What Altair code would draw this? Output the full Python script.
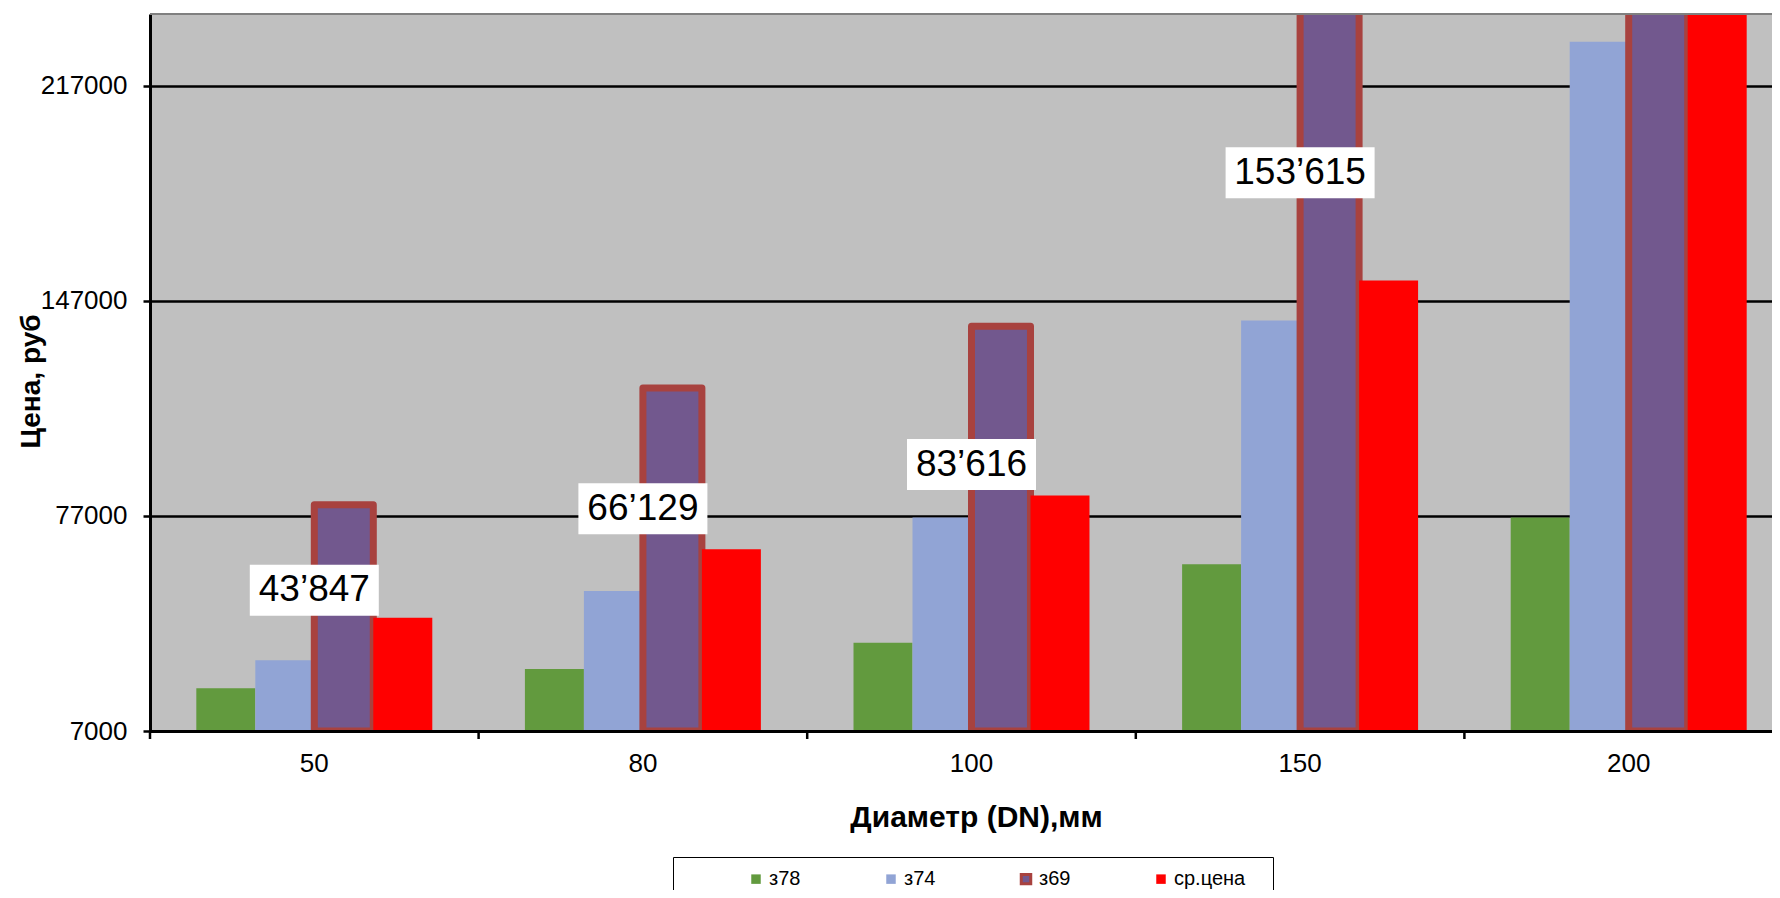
import altair as alt
import pandas as pd

# ---------------- data ----------------
dn = ["50", "80", "100", "150", "200"]
series = ["з78", "з74", "з69", "ср.цена"]
z78 = [20900, 27200, 35700, 61300, 76500]
z74 = [30000, 52600, 76500, 140600, 231300]
z69 = [80600, 118600, 138700, 259000, 478200]
avg_price = [43847, 66129, 83616, 153615, 262000]

label_dn = ["50", "80", "100", "150"]
label_value = [43847, 66129, 83616, 153615]
label_anchor = [52800, 79300, 93700, 188700]

y_ticks = [7000, 77000, 147000, 217000]
y_min, y_max = 7000, 240333

colors = ["#629A3E", "#91A4D5", "#72588E", "#FF0000"]
borders = ["rgba(0,0,0,0)", "rgba(0,0,0,0)", "#A8423F", "rgba(0,0,0,0)"]

# ---------------- tables ----------------
rows = []
for s, vals in zip(series, [z78, z74, z69, avg_price]):
    for d, v in zip(dn, vals):
        rows.append({"dn": d, "series": s, "value": v})
df = pd.DataFrame(rows)


def fmt(v):
    return f"{v // 1000}\u2019{v % 1000:03d}"


lab = pd.DataFrame({"dn": label_dn, "anchor": label_anchor,
                    "text": [fmt(v) for v in label_value]})
ticks_df = pd.DataFrame({"dn": dn})

W, H = 1622, 717
FONT = "Liberation Sans"
XT = "Диаметр (DN),мм"
YT = "Цена, руб"

xscale = alt.Scale(domain=dn, range=[0, 1643], paddingInner=0, paddingOuter=0)
yscale = alt.Scale(domain=[y_min, y_max], zero=False, nice=False)

x_axis = alt.Axis(ticks=False, tickSize=0, labelAngle=0, labelFontSize=26,
                  labelColor="black", labelFont=FONT, labelPadding=32,
                  labelBaseline="middle", domainColor="black", domainWidth=3,
                  titleFontSize=30, titleFontWeight="bold", titleColor="black",
                  titleFont=FONT, titleX=826, titleY=86, titleBaseline="middle",
                  zindex=1)
y_axis = alt.Axis(values=y_ticks, format="d", grid=True, gridColor="black",
                  gridWidth=2.5, domainColor="black", domainWidth=3,
                  tickColor="black", tickWidth=2.5, tickSize=7,
                  labelFontSize=26, labelColor="black", labelFont=FONT,
                  labelPadding=16, titleFontSize=28, titleFontWeight="bold",
                  titleColor="black", titleFont=FONT, titleX=-119, titleY=367,
                  titleBaseline="middle", titleAngle=270)

nb = "\u00a0"
pad = "\u2800"
legend = alt.Legend(orient="none", legendX=523, legendY=843,
                    direction="horizontal", columns=4, title=nb,
                    titleOrient="left", titlePadding=61, titleFontSize=20,
                    fillColor="white", strokeColor="black", padding=12,
                    labelFontSize=20, labelColor="black", labelFont=FONT,
                    labelLimit=400,
                    symbolType="square", symbolSize=90, symbolStrokeWidth=3,
                    columnPadding=79, labelOffset=3,
                    labelExpr="datum.label == 'ср.цена' ? 'ср.цена" + pad + "' : datum.label")

bars = alt.Chart(df).mark_bar(clip=True, strokeWidth=7, strokeJoin="round").encode(
    x=alt.X("dn:N", scale=xscale, axis=x_axis, title=XT, sort=dn),
    xOffset=alt.XOffset("series:N", sort=series,
                        scale=alt.Scale(domain=series, paddingInner=0, paddingOuter=0.785)),
    y=alt.Y("value:Q", scale=yscale, axis=y_axis, title=YT),
    y2=alt.datum(7000),
    color=alt.Color("series:N", scale=alt.Scale(domain=series, range=colors), legend=legend),
    stroke=alt.Stroke("series:N", scale=alt.Scale(domain=series, range=borders), legend=legend),
)

xticks = alt.Chart(ticks_df).mark_rule(color="black", strokeWidth=2.5).encode(
    x=alt.X("dn:N", bandPosition=0, title=XT, sort=dn),
    y=alt.value(H),
    y2=alt.value(H + 8),
)

box5 = alt.Chart(lab).transform_filter("length(datum.text) <= 6").mark_rect(
    width=129, height=51, color="white").encode(
    x=alt.X("dn:N", title=XT, sort=dn),
    y=alt.Y("anchor:Q", title=YT),
)
box6 = alt.Chart(lab).transform_filter("length(datum.text) > 6").mark_rect(
    width=149, height=51, color="white").encode(
    x=alt.X("dn:N", title=XT, sort=dn),
    y=alt.Y("anchor:Q", title=YT),
)
texts = alt.Chart(lab).mark_text(font=FONT, fontSize=37, color="black",
                                 align="center", baseline="middle").encode(
    x=alt.X("dn:N", title=XT, sort=dn),
    y=alt.Y("anchor:Q", title=YT),
    text="text:N",
)

topline = alt.Chart(ticks_df.head(1)).mark_rule(color="#808080", strokeWidth=2).encode(
    x=alt.value(0), x2=alt.value(W), y=alt.value(0)
)

chart = alt.layer(bars, xticks, box5, box6, texts, topline).properties(
    width=W, height=H,
    autosize=alt.AutoSizeParams(type="none"),
    padding={"left": 142, "top": 6, "right": 0, "bottom": 159},
    background="white",
).configure(font=FONT).configure_view(fill="#C0C0C0", stroke=None)

chart.save("out.html", embed_options={"renderer": "svg", "actions": False})
